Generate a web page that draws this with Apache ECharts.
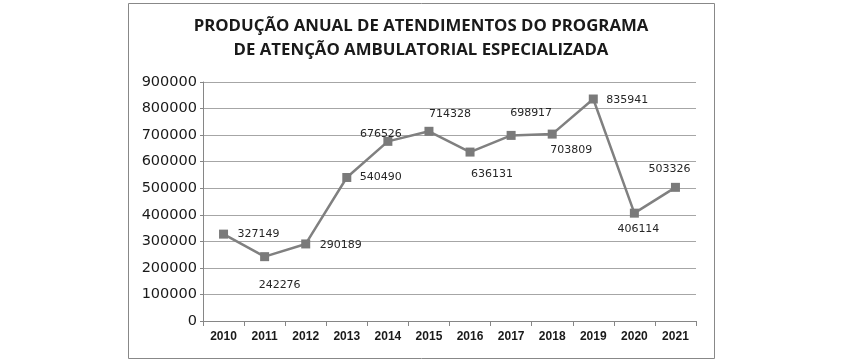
<!DOCTYPE html>
<html>
<head>
<meta charset="utf-8">
<script src="https://cdn.jsdelivr.net/npm/echarts@6/dist/echarts.min.js"></script>
<style>
html,body{margin:0;padding:0;background:#fff;}
#chart{width:862px;height:360px;}
</style>
</head>
<body>
<div id="chart"></div>
<script>
var titleText = 'PRODUÇÃO ANUAL DE ATENDIMENTOS DO PROGRAMA\nDE ATENÇÃO AMBULATORIAL ESPECIALIZADA';
var years = ['2010','2011','2012','2013','2014','2015','2016','2017','2018','2019','2020','2021'];
var values = [327149, 242276, 290189, 540490, 676526, 714328, 636131, 698917, 703809, 835941, 406114, 503326];
var labelOffsets = [[35,0],[15,28],[35,1],[34,0],[-7,-7],[21,-17],[22,22],[20,-22],[19,16],[34,1],[4,16],[-6,-18]];

var chart = echarts.init(document.getElementById('chart'));
var data = values.map(function(v,i){
  return {value:v, label:{offset:labelOffsets[i]}};
});
chart.setOption({
  animation:false,
  backgroundColor:'#fff',
  title:{
    text:titleText,
    left:421, textAlign:'center', top:14, padding:0,
    textStyle:{fontFamily:'Open Sans', fontWeight:'bold', fontSize:16.8, lineHeight:24, color:'#1a1a1a'}
  },
  graphic:[{type:'rect', shape:{x:128.5,y:3.5,width:586,height:355}, style:{fill:null, stroke:'#888', lineWidth:1}, z:-1}],
  grid:{left:203, right:166, top:82, bottom:39},
  xAxis:{
    type:'category', data:years, boundaryGap:true,
    axisLine:{lineStyle:{color:'#868686'}},
    axisTick:{show:true, length:5, lineStyle:{color:'#868686'}},
    axisLabel:{fontFamily:'Liberation Sans', fontWeight:'bold', fontSize:12, color:'#1a1a1a', margin:10}
  },
  yAxis:{
    type:'value', min:0, max:900000, interval:100000,
    axisLine:{show:true, lineStyle:{color:'#868686'}},
    axisTick:{show:true, length:3, lineStyle:{color:'#868686'}},
    splitLine:{lineStyle:{color:'#a6a6a6'}},
    axisLabel:{fontFamily:'DejaVu Sans', fontSize:14.5, color:'#1a1a1a', margin:6, formatter:function(v){return String(v);}}
  },
  series:[{
    type:'line', data:data,
    symbol:'rect', symbolSize:9,
    lineStyle:{color:'#808080', width:2.5},
    itemStyle:{color:'#7a7a7a'},
    label:{show:true, position:'inside', fontFamily:'DejaVu Sans', fontSize:11, color:'#262626'}
  }]
});
</script>
</body>
</html>
